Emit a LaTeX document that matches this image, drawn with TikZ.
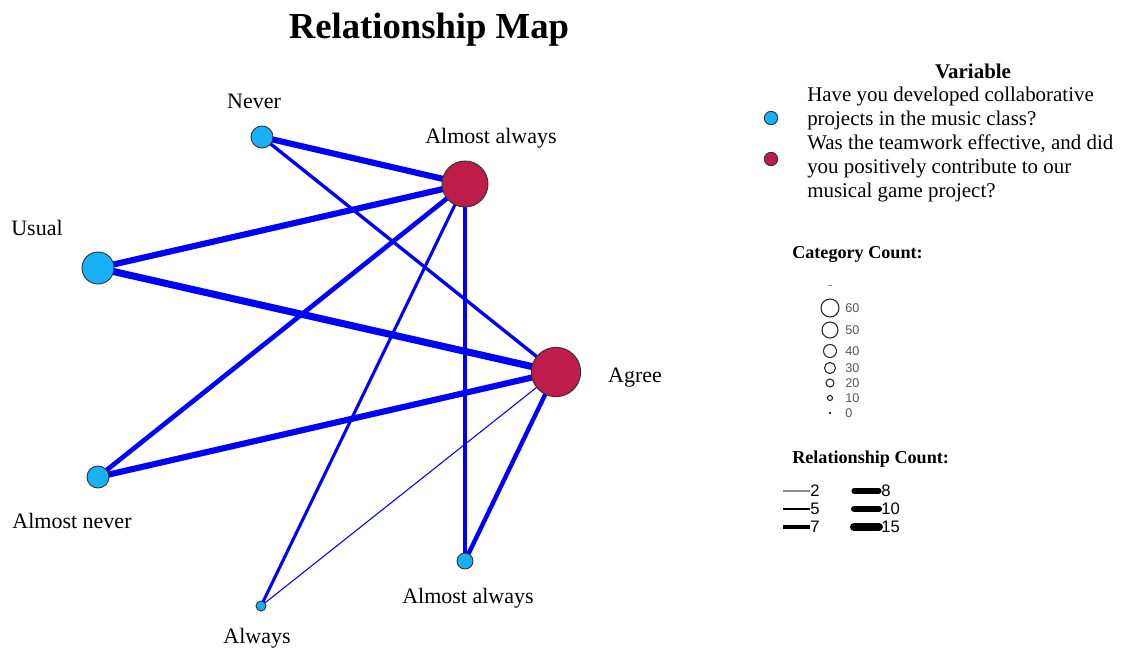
\documentclass[tikz,border=0pt]{standalone}
\usepackage{fontspec}
\setmainfont{Liberation Serif}
\newfontfamily\legsans{Liberation Sans}
\usepackage{xcolor}
\definecolor{relblue}{HTML}{0000FF}
\definecolor{catblue}{HTML}{1AB0F8}
\definecolor{catred}{HTML}{BE1C4A}
\definecolor{catrim}{HTML}{333333}
\definecolor{leggray}{HTML}{555555}
\usepackage{tikz}
\usetikzlibrary{positioning,backgrounds}
\tikzset{
  catnode/.style={
    circle, draw=catrim, fill=#1, line width=0.7pt, inner sep=0pt
  },
  catlabel/.style={
    font=\fontsize{16.5}{19}\selectfont, inner sep=0pt
  },
  relline/.style={draw=relblue, line width=#1},
  legtext/.style={
    font=\fontsize{15.7}{18}\selectfont, align=left, anchor=west, inner sep=0pt
  },
  leghead/.style={font=\fontsize{13.6}{15}\selectfont\bfseries, anchor=west, inner sep=0pt},
  legcircle/.style={circle, draw=black!85, line width=0.8pt, inner sep=0pt},
  legnum/.style={font=\legsans\fontsize{9.5}{10}\selectfont, text=leggray, anchor=west, inner sep=0pt},
  legnumb/.style={font=\legsans\fontsize{12.5}{13}\selectfont, anchor=west, inner sep=0pt}
}

\begin{document}
\begin{tikzpicture}[x=0.75pt, y=-0.75pt]
  \useasboundingbox (0,0) rectangle (1125,651);

  % title
  \node[font=\fontsize{27.5}{30}\selectfont\bfseries] (title) at (429,30) {Relationship Map};

  % categories
  \node[catnode=catblue, minimum size=16.5pt] (never)   at (262,137) {};
  \node[catnode=catred,  minimum size=34.5pt] (almalwB) at (465,184) {};
  \node[catnode=catblue, minimum size=24pt]   (usual)   at (98,268)  {};
  \node[catnode=catred,  minimum size=37pt]   (agree)   at (556,372) {};
  \node[catnode=catblue, minimum size=16.5pt] (almnev)  at (98,477)  {};
  \node[catnode=catblue, minimum size=12pt]   (almalwA) at (465,561) {};
  \node[catnode=catblue, minimum size=7.5pt]  (always)  at (261,606) {};

  \node[catlabel] (lnever)   at (254,101) {Never};
  \node[catlabel] (lalmalwB) at (491,138) {Almost always};
  \node[catlabel] (lusual)   at (37,228)  {Usual};
  \node[catlabel] (lagree)   at (635,378) {Agree};
  \node[catlabel] (lalmnev)  at (72,521)  {Almost never};
  \node[catlabel] (lalmalwA) at (468,598) {Almost always};
  \node[catlabel] (lalways)  at (257,638) {Always};

  % relationships
  \begin{scope}[on background layer]
    \draw[relline=4.6pt] (never.center) -- (almalwB.center);
    \draw[relline=2.5pt] (never.center) -- (agree.center);
    \draw[relline=4.6pt] (usual.center) -- (almalwB.center);
    \draw[relline=5.3pt] (usual.center) -- (agree.center);
    \draw[relline=3.5pt] (almnev.center) -- (almalwB.center);
    \draw[relline=4.6pt] (almnev.center) -- (agree.center);
    \draw[relline=2.3pt] (always.center) -- (almalwB.center);
    \draw[relline=0.8pt] (always.center) -- (agree.center);
    \draw[relline=2.3pt] (almalwA.center) -- (almalwB.center);
    \draw[relline=3.3pt] (almalwA.center) -- (agree.center);
  \end{scope}

  % legend: variable
  \node[font=\fontsize{15.7}{18}\selectfont\bfseries] (varhead) at (973,71) {Variable};
  \node[catnode=catblue, minimum size=10pt] (legblue) at (771,118) {};
  \node[catnode=catred,  minimum size=10pt] (legred)  at (771,159) {};
  \node[legtext] (varone) at (807,108) {Have you developed collaborative\\projects in the music class?};
  \node[legtext] (vartwo) at (807,168) {Was the teamwork effective, and did\\you positively contribute to our\\musical game project?};

  % legend: category count
  \node[leghead] (cathead) at (792,254) {Category Count:};
  \draw[leggray!60, line width=0.6pt] (828,285) -- (832,285);
  \foreach \y/\r/\v in {308/9/60, 330/8/50, 351/6.5/40, 368/5.5/30, 383/4/20, 398/2.5/10}
    \node[legcircle, minimum size=\r*1.5pt] (cc\v) at (830,\y) {};
  \fill[black!85] (830,413) circle[radius=1pt];
  \foreach \y/\v in {308/60, 330/50, 351/40, 368/30, 383/20, 398/10, 413/0}
    \node[legnum] (cn\v) at (845,\y) {\v};

  % legend: relationship count
  \node[leghead] (relhead) at (792,459) {Relationship Count:};
  \draw[black!45, line width=1.5pt] (783,491) -- (810,491);
  \draw[black, line width=1.8pt] (783,509) -- (810,509);
  \draw[black, line width=2.5pt] (783,527) -- (810,527);
  \draw[black, line width=3.8pt, line cap=round] (854,491) -- (879,491);
  \draw[black, line width=4.6pt, line cap=round] (854,509) -- (879,509);
  \draw[black, line width=6pt, line cap=round] (854,527) -- (879,527);
  \foreach \y/\v in {491/2, 509/5, 527/7}
    \node[legnumb] (rn\v) at (810,\y) {\v};
  \foreach \y/\v in {491/8, 509/10, 527/15}
    \node[legnumb] (rn\v) at (881,\y) {\v};
\end{tikzpicture}
\end{document}
